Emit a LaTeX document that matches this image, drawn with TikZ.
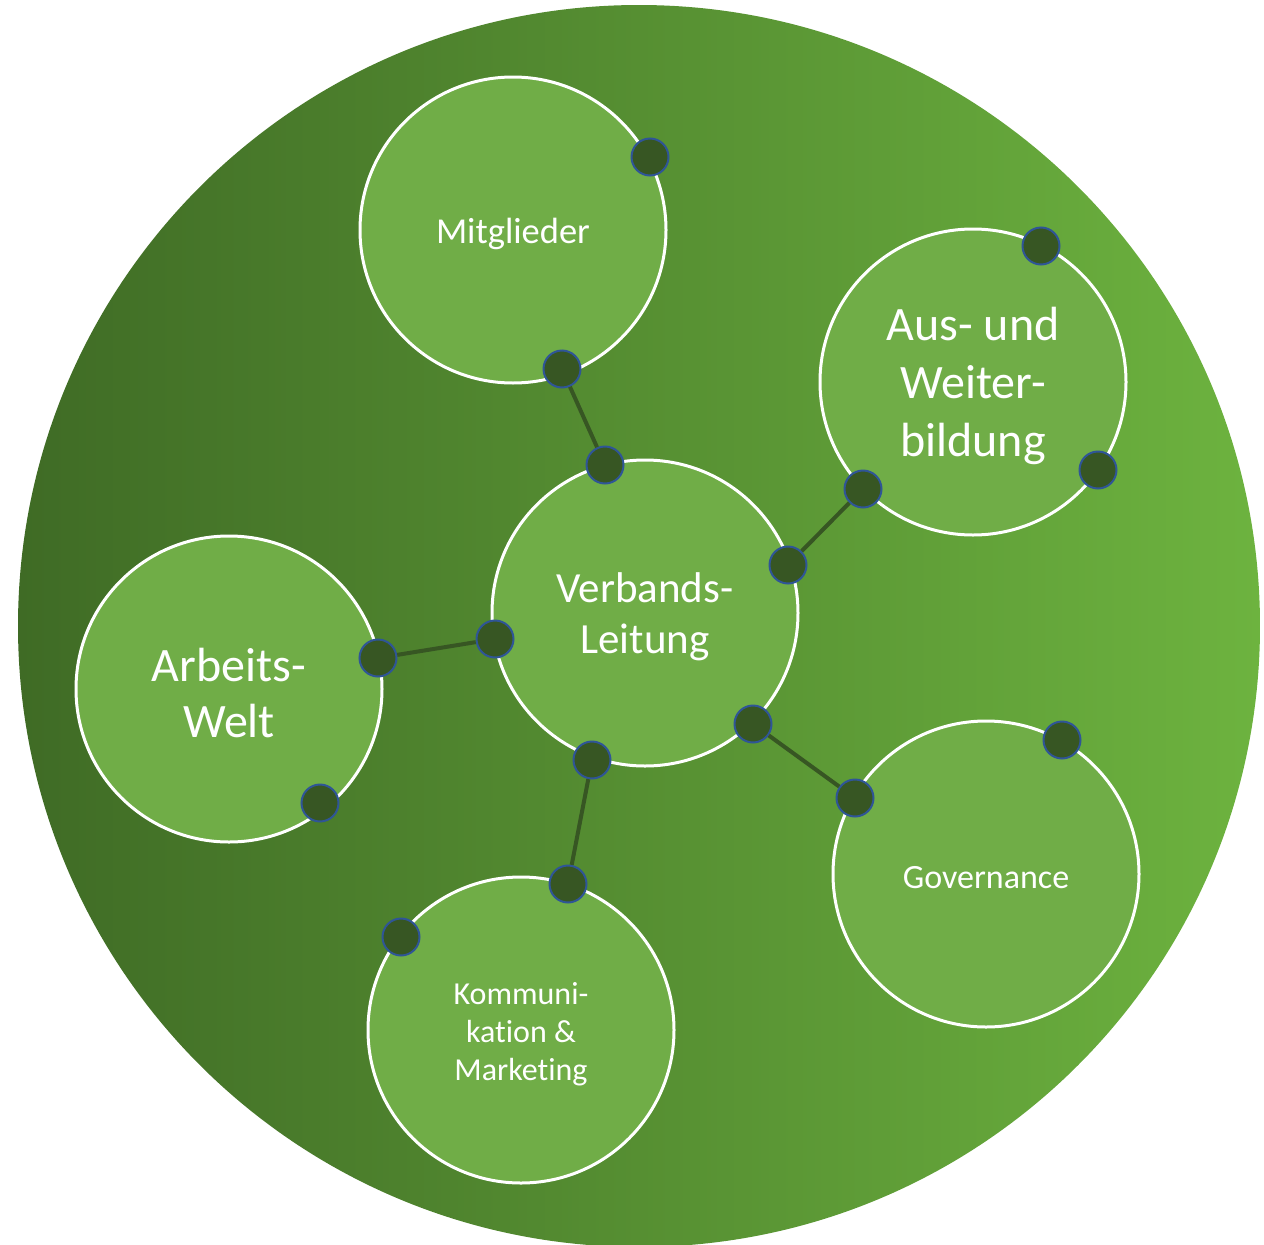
\documentclass[tikz,border=0pt]{standalone}
\usepackage{fontspec}
\setmainfont{Carlito}[Ligatures=NoCommon]
\definecolor{hgleft}{HTML}{3F6B25}
\definecolor{hgright}{HTML}{6DB33F}
\definecolor{kreisgruen}{HTML}{70AD47}
\definecolor{punktgruen}{HTML}{375623}
\definecolor{punktblau}{HTML}{2F5597}
\usetikzlibrary{positioning}

\begin{document}
\begin{tikzpicture}[x=1pt,y=-1pt,
    kreis/.style={draw=white,line width=3pt,fill=kreisgruen,circle,minimum size=306pt,inner sep=0pt},
    schrift/.style={text=white,align=center,inner sep=0pt,yshift=-4pt},
    punkt/.style={draw=punktblau,line width=2pt,fill=punktgruen,circle,minimum size=37pt,inner sep=0pt},
    verbindung/.style={draw=punktgruen,line width=4pt}]

        \useasboundingbox (0,0) rectangle (1264,1245);
        \shade[left color=hgleft,right color=hgright] (639,626) circle (621pt);

        \node[kreis]    (c0) at (645,613)     {};
        \node[kreis]    (c1) at (513,230)     {};
        \node[kreis]    (c2) at (973,382)     {};
        \node[kreis]    (c3) at (229,689)     {};
        \node[kreis]    (c4) at (986,874)     {};
        \node[kreis]    (c5) at (521,1030)    {};

        \node[schrift,font=\fontsize{43}{51}\selectfont]      (t0) at (c0) {Verbands-\\Leitung};
        \node[schrift,font=\fontsize{36.5}{44}\selectfont]    (t1) at (c1) {Mitglieder};
        \node[schrift,font=\fontsize{48}{58}\selectfont]      (t2) at (c2) {Aus- und\\Weiter-\\bildung};
        \node[schrift,font=\fontsize{48}{56}\selectfont]      (t3) at (c3) {Arbeits-\\Welt};
        \node[schrift,font=\fontsize{34}{42}\selectfont]      (t4) at (c4) {Governance};
        \node[schrift,font=\fontsize{32}{38}\selectfont]      (t5) at (c5) {Kommuni-\\kation \&\\Marketing};

        \node[punkt]    (d01) at (605,465)  {};
        \node[punkt]    (d02) at (788,565)  {};
        \node[punkt]    (d03) at (495,639)  {};
        \node[punkt]    (d04) at (753,724)  {};
        \node[punkt]    (d05) at (592,760)  {};
        \node[punkt]    (d10) at (650,157)  {};
        \node[punkt]    (d11) at (562,369)  {};
        \node[punkt]    (d20) at (1041,246) {};
        \node[punkt]    (d21) at (1098,470) {};
        \node[punkt]    (d22) at (863,489)  {};
        \node[punkt]    (d30) at (378,658)  {};
        \node[punkt]    (d31) at (320,803)  {};
        \node[punkt]    (d40) at (1062,740) {};
        \node[punkt]    (d41) at (855,798)  {};
        \node[punkt]    (d50) at (568,884)  {};
        \node[punkt]    (d51) at (401,937)  {};

        \draw[verbindung] (d11) -- (d01);
        \draw[verbindung] (d22) -- (d02);
        \draw[verbindung] (d30) -- (d03);
        \draw[verbindung] (d41) -- (d04);
        \draw[verbindung] (d50) -- (d05);

    \end{tikzpicture}
\end{document}
